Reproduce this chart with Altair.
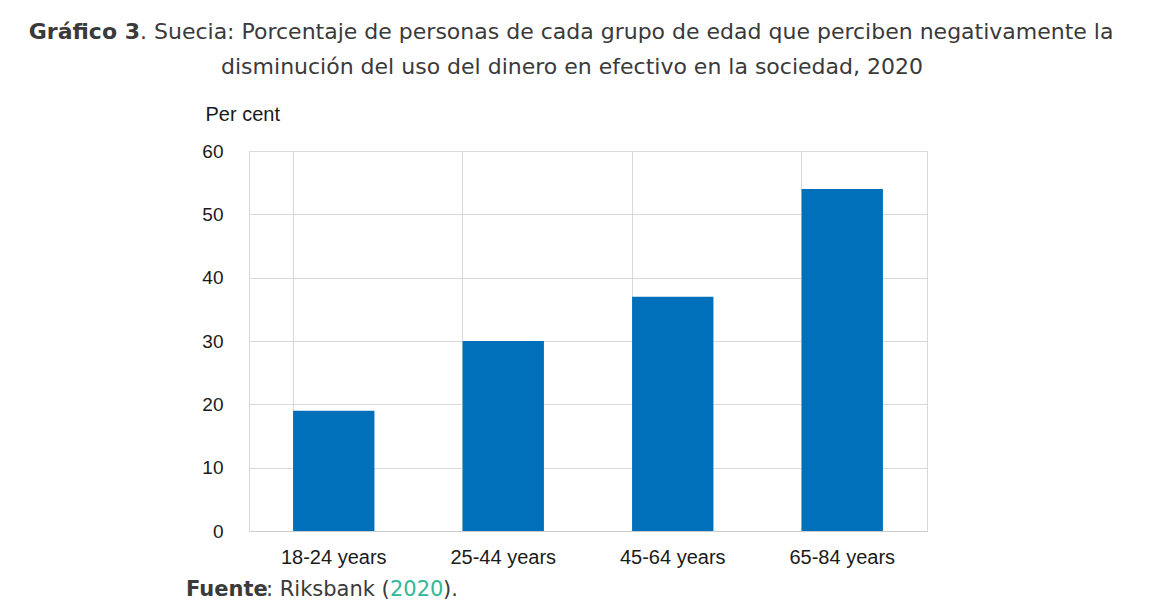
import altair as alt
import pandas as pd

categories = ["18-24 years", "25-44 years", "45-64 years", "65-84 years"]
values = [19, 30, 37, 54]
y_ticks = [0, 10, 20, 30, 40, 50, 60]

title_bold = "Gráfico 3"
title_rest1 = ". Suecia: Porcentaje de personas de cada grupo de edad que perciben negativamente la"
title_line2 = "disminución del uso del dinero en efectivo en la sociedad, 2020"
src_bold = "Fuente"
src_mid = ": Riksbank ("
src_year = "2020"
src_end = ")."

df = pd.DataFrame({"cat": categories, "val": values})

W, H = 678, 380
TFONT = "DejaVu Sans"
TCOLOR = "#3a3a3a"

bars = alt.Chart(df).mark_bar(color="#0070BA").encode(
    x=alt.X("cat:N", sort=categories,
            scale=alt.Scale(paddingInner=0.52, paddingOuter=0.26),
            axis=alt.Axis(title=None, labelAngle=0, labelFont="Liberation Sans",
                          labelFontSize=20, labelColor="#1a1a1a", labelPadding=16,
                          ticks=False, domainColor="#cccccc", grid=True,
                          gridColor="#d9d9d9", bandPosition=0)),
    y=alt.Y("val:Q", scale=alt.Scale(domain=[0, 60]),
            axis=alt.Axis(values=y_ticks, title="Per cent", titleAngle=0,
                          titleAlign="left", titleBaseline="middle",
                          titleX=-44, titleY=-37, titleFont="Liberation Sans",
                          titleFontSize=20, titleFontWeight="normal", titleColor="#1a1a1a",
                          labelFont="Liberation Sans", labelFontSize=19,
                          labelColor="#1a1a1a", labelPadding=26, ticks=False,
                          domain=False, gridColor="#d9d9d9")),
)

def txt(s, x, y, align="left", weight="normal", color=TCOLOR, size=21):
    return alt.Chart(pd.DataFrame({"t": [s]})).mark_text(
        align=align, baseline="middle", font=TFONT, fontSize=size,
        fontWeight=weight, color=color,
    ).encode(text="t:N", x=alt.value(x), y=alt.value(y))

split = -109
layers = [
    bars,
    txt(title_bold, split, -119, align="right", weight="bold", size=22),
    txt(title_rest1, split, -119, size=22),
    txt(title_line2, 323, -84, align="center", size=22),
    txt(src_bold, -63, 439, weight="bold"),
    txt(src_mid, 17, 439),
    txt(src_year, 141, 439, color="#2fb996"),
    txt(src_end, 194, 439),
]

chart = alt.layer(*layers).properties(
    width=W, height=H,
    padding={"left": 241, "top": 143, "right": 200, "bottom": 80},
    autosize=alt.AutoSizeParams(type="none"),
).configure_view(stroke="#d9d9d9")

chart.save("out.html", embed_options={"renderer": "svg", "actions": False})
